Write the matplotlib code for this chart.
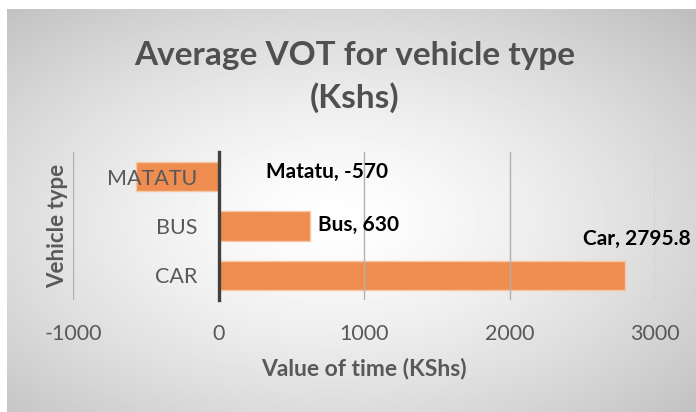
import numpy as np
import matplotlib
matplotlib.use('Agg')
import matplotlib.pyplot as plt

# data
categories = ['CAR', 'BUS', 'MATATU']
label_names = ['Car', 'Bus', 'Matatu']
vot = [2795.8, 630, -570]
xticks = [-1000, 0, 1000, 2000, 3000]

# label offsets (pixels) for the data labels
label_offsets = [(-42, 36), (8, 1), (48, 5)]

plt.rcParams['font.family'] = ['Lato', 'DejaVu Sans']
plt.rcParams['axes.unicode_minus'] = False
grey = '#595959'

fig = plt.figure(figsize=(6.96, 4.12), dpi=100)
fig.patch.set_facecolor('white')

# radial gradient background of the chart area
bg = fig.add_axes([7/696, 0, 689/696, 403/412], zorder=-10)
gx, gy = np.meshgrid(np.linspace(-1, 1, 400), np.linspace(-1, 1, 240))
r = np.sqrt(((gx + 0.05) ** 2 + (gy - 0.05) ** 2) / 2)
shade = 1 - 0.24 * np.clip(r, 0, 1.2) ** 1.4
bg.imshow(shade, cmap='gray', vmin=0, vmax=1, aspect='auto', extent=[0, 1, 0, 1])
bg.axis('off')

ax = fig.add_axes([73/696, 112/412, 582/696, 148/412])
ax.set_facecolor('none')

y = np.arange(len(categories))
ax.barh(y, vot, height=0.6, color='#EE8D4F', edgecolor='#F7C6A2', linewidth=1)

ax.set_xlim(-1000, 3000)
ax.set_ylim(-0.5, 2.5)
ax.set_xticks(xticks)
ax.set_yticks(y)
ax.set_yticklabels(categories)
ax.xaxis.grid(True, color='#b0b0b0', linewidth=1)

for s in ['top', 'right', 'bottom']:
    ax.spines[s].set_visible(False)
ax.spines['left'].set_position(('data', 0))
ax.spines['left'].set_color('#404040')
ax.spines['left'].set_linewidth(2.4)

ax.tick_params(axis='x', length=0, pad=17, labelsize=15.5, labelcolor=grey)
ax.tick_params(axis='y', length=0, pad=15, labelsize=15.5, labelcolor=grey)
for t in ax.get_yticklabels():
    t.set_zorder(5)

ax.set_xlabel('Value of time (KShs)', fontsize=16.5, fontweight='bold',
              color=grey, labelpad=10)
ax.set_ylabel('Vehicle type', fontsize=16, fontweight='bold', color=grey)
ax.yaxis.set_label_coords(-15/582, 0.5)
ax.yaxis.label.set_va('center')
ax.yaxis.label.set_ha('center')

for yi, v, name, off in zip(y, vot, label_names, label_offsets):
    x0 = max(v, 0)
    ax.annotate(f'{name}, {v:g}', xy=(x0, yi), xytext=off,
                textcoords='offset pixels', ha='left', va='center',
                fontsize=15, fontweight='bold', color='black',
                annotation_clip=False)

fig.text(355/696, 1 - 77/412, 'Average VOT for vehicle type\n(Kshs)',
         ha='center', va='center', fontsize=24, fontweight='bold',
         color='#505050', linespacing=1.45)

fig.savefig('out.png', dpi=100)
